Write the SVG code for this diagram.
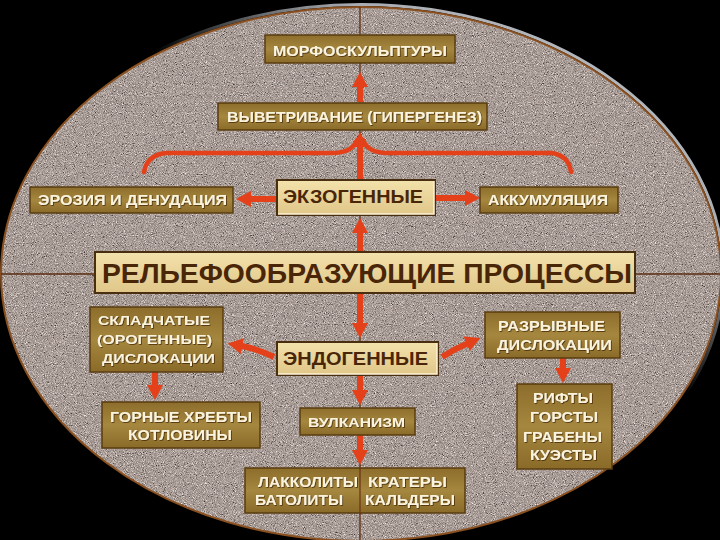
<svg xmlns="http://www.w3.org/2000/svg" width="720" height="540" viewBox="0 0 720 540">
<defs>
  <clipPath id="ell"><ellipse cx="361" cy="274" rx="360" ry="267"/></clipPath>
  <filter id="grain" x="0" y="0" width="720" height="540" filterUnits="userSpaceOnUse" color-interpolation-filters="sRGB">
    <feTurbulence type="fractalNoise" baseFrequency="1.1" numOctaves="2" seed="7" result="t"/>
    <feColorMatrix in="t" type="matrix" values="1 0 0 0 0  1 0 0 0 0  1 0 0 0 0  0 0 0 0 1" result="g"/>
    <feComponentTransfer in="g">
      <feFuncR type="table" tableValues="0.08 0.26 0.54 0.66 0.78 0.96 1"/>
      <feFuncG type="table" tableValues="0.06 0.23 0.50 0.61 0.73 0.92 0.99"/>
      <feFuncB type="table" tableValues="0.06 0.22 0.48 0.59 0.71 0.90 0.99"/>
    </feComponentTransfer>
  </filter>
  <filter id="ts" x="-10%" y="-30%" width="120%" height="160%">
    <feDropShadow dx="0.8" dy="0.8" stdDeviation="0.5" flood-color="#3a2206" flood-opacity="0.85"/>
  </filter>
  <linearGradient id="gold" x1="0" y1="0" x2="0" y2="1">
    <stop offset="0" stop-color="#8d6d2b"/>
    <stop offset="0.5" stop-color="#a5873f"/>
    <stop offset="1" stop-color="#8a6a28"/>
  </linearGradient>
  <linearGradient id="cream" x1="0" y1="0" x2="0" y2="1">
    <stop offset="0" stop-color="#f3e2ac"/>
    <stop offset="1" stop-color="#e0c688"/>
  </linearGradient>
  <linearGradient id="rim" x1="0.2" y1="0.8" x2="0.85" y2="0.05">
    <stop offset="0" stop-color="#b0b4b8" stop-opacity="0"/>
    <stop offset="0.55" stop-color="#b0b4b8" stop-opacity="0"/>
    <stop offset="0.8" stop-color="#a8acb2" stop-opacity="1"/>
    <stop offset="1" stop-color="#b8bcc0" stop-opacity="1"/>
  </linearGradient>
  <marker id="ah" viewBox="0 0 15 16" refX="1" refY="8" markerWidth="15" markerHeight="16" markerUnits="userSpaceOnUse" orient="auto">
    <path d="M0,0 L15,8 L0,16 z" fill="#e4411b"/>
  </marker>
  <style>
    .gbox{fill:url(#gold);stroke:#5a3c10;stroke-width:1.5}
    .cbox{fill:url(#cream);stroke:#4a2e10;stroke-width:2}
    .wt{font-family:"Liberation Sans",Arial,sans-serif;font-weight:bold;fill:#fbf3dc;text-anchor:middle;filter:url(#ts)}
    .dt{font-family:"Liberation Sans",Arial,sans-serif;font-weight:bold;fill:#4a2608;text-anchor:middle}
    .arr{stroke:#e4411b;stroke-width:6;fill:none;marker-end:url(#ah)}
    .brace{stroke:#e4411b;stroke-width:4.5;fill:none;stroke-linecap:round}
    .axis{stroke:#5b2d10;stroke-width:1.3}
  </style>
</defs>

<rect x="0" y="0" width="720" height="540" fill="#000"/>
<rect x="0" y="0" width="720" height="540" fill="#a09088" filter="url(#grain)" clip-path="url(#ell)"/>
<ellipse cx="361" cy="274" rx="362.5" ry="269.5" fill="none" stroke="url(#rim)" stroke-width="3"/>
<ellipse cx="361" cy="274" rx="360" ry="267" fill="none" stroke="#8a5020" stroke-width="2"/>

<g id="axes" clip-path="url(#ell)">
  <line class="axis" x1="360" y1="0" x2="360" y2="540"/>
  <line class="axis" x1="0" y1="274" x2="720" y2="274"/>
</g>

<g id="connectors">
  <line class="arr" x1="360" y1="102" x2="360" y2="86"/>
  <line class="arr" x1="360" y1="180" x2="360" y2="146"/>
  <path class="brace" d="M357,140 Q352,153 332,153 L166,153 Q147,155 144,172"/>
  <path class="brace" d="M363,140 Q368,153 388,153 L552,153 Q569,156 571,172"/>
  <line class="arr" x1="277" y1="199" x2="250" y2="199"/>
  <line class="arr" x1="435" y1="198" x2="466" y2="198"/>
  <line class="arr" x1="360" y1="252" x2="360" y2="232"/>
  <line class="arr" x1="360" y1="293" x2="360" y2="324"/>
  <path class="arr" d="M274,357 Q258,349 241.5,346"/>
  <line class="arr" x1="155" y1="372" x2="155" y2="386"/>
  <line class="arr" x1="360" y1="375" x2="360" y2="391"/>
  <line class="arr" x1="360" y1="435" x2="360" y2="451"/>
  <path class="arr" d="M442,357 Q454,349 467.5,343.4"/>
  <line class="arr" x1="563" y1="358" x2="563" y2="369"/>
</g>

<g id="n-morfo">
  <rect class="gbox" x="265" y="35" width="190" height="28"/>
  <text class="wt" x="360" y="56" font-size="14" textLength="174" lengthAdjust="spacingAndGlyphs">МОРФОСКУЛЬПТУРЫ</text>
</g>
<g id="n-vyvetr">
  <rect class="gbox" x="218" y="103" width="269" height="27"/>
  <text class="wt" x="354.5" y="122" font-size="14.5" textLength="255" lengthAdjust="spacingAndGlyphs">ВЫВЕТРИВАНИЕ (ГИПЕРГЕНЕЗ)</text>
</g>
<g id="n-erozia">
  <rect class="gbox" x="30" y="187" width="203" height="26"/>
  <text class="wt" x="132.5" y="205" font-size="14" textLength="189" lengthAdjust="spacingAndGlyphs">ЭРОЗИЯ И ДЕНУДАЦИЯ</text>
</g>
<g id="n-ekzo">
  <rect class="cbox" x="277" y="180" width="158" height="35"/>
  <path d="M278,214 L434,214 L434,181" fill="none" stroke="#fff4d8" stroke-width="1.5"/>
  <text class="dt" x="353" y="203" font-size="19" textLength="140" lengthAdjust="spacingAndGlyphs">ЭКЗОГЕННЫЕ</text>
</g>
<g id="n-akkum">
  <rect class="gbox" x="480" y="187" width="138" height="26"/>
  <text class="wt" x="548" y="205" font-size="14" textLength="120" lengthAdjust="spacingAndGlyphs">АККУМУЛЯЦИЯ</text>
</g>
<g id="n-relief">
  <rect class="cbox" x="95" y="252" width="540" height="41"/>
  <text class="dt" x="367" y="283" font-size="28" textLength="530" lengthAdjust="spacingAndGlyphs">РЕЛЬЕФООБРАЗУЮЩИЕ ПРОЦЕССЫ</text>
</g>
<g id="n-endo">
  <rect class="cbox" x="277" y="342" width="161" height="33"/>
  <path d="M278,374 L437,374 L437,343" fill="none" stroke="#fff4d8" stroke-width="1.5"/>
  <text class="dt" x="355.5" y="365" font-size="19" textLength="145" lengthAdjust="spacingAndGlyphs">ЭНДОГЕННЫЕ</text>
</g>
<g id="n-skladch">
  <rect class="gbox" x="90" y="307" width="133" height="65"/>
  <text class="wt" x="154" y="325" font-size="13.5" textLength="112" lengthAdjust="spacingAndGlyphs">СКЛАДЧАТЫЕ</text>
  <text class="wt" x="154.5" y="344" font-size="13.5" textLength="115" lengthAdjust="spacingAndGlyphs">(ОРОГЕННЫЕ)</text>
  <text class="wt" x="158.5" y="363" font-size="13.5" textLength="113" lengthAdjust="spacingAndGlyphs">ДИСЛОКАЦИИ</text>
</g>
<g id="n-gornye">
  <rect class="gbox" x="102" y="402" width="158" height="46"/>
  <text class="wt" x="181" y="422" font-size="14" textLength="142" lengthAdjust="spacingAndGlyphs">ГОРНЫЕ ХРЕБТЫ</text>
  <text class="wt" x="180" y="440" font-size="14" textLength="104" lengthAdjust="spacingAndGlyphs">КОТЛОВИНЫ</text>
</g>
<g id="n-vulkan">
  <rect class="gbox" x="300" y="408" width="115" height="27"/>
  <text class="wt" x="356.5" y="427" font-size="13.5" textLength="97" lengthAdjust="spacingAndGlyphs">ВУЛКАНИЗМ</text>
</g>
<g id="n-lakkol">
  <rect class="gbox" x="245" y="468" width="220" height="45"/>
  <line x1="360" y1="468" x2="360" y2="513" stroke="#6b3212" stroke-width="1.2"/>
  <text class="wt" x="308" y="487" font-size="14" textLength="100" lengthAdjust="spacingAndGlyphs">ЛАККОЛИТЫ</text>
  <text class="wt" x="407.5" y="487" font-size="14" textLength="79" lengthAdjust="spacingAndGlyphs">КРАТЕРЫ</text>
  <text class="wt" x="299" y="505" font-size="14" textLength="88" lengthAdjust="spacingAndGlyphs">БАТОЛИТЫ</text>
  <text class="wt" x="410" y="505" font-size="14" textLength="90" lengthAdjust="spacingAndGlyphs">КАЛЬДЕРЫ</text>
</g>
<g id="n-razryv">
  <rect class="gbox" x="485" y="312" width="135" height="46"/>
  <text class="wt" x="551.5" y="331" font-size="14" textLength="107" lengthAdjust="spacingAndGlyphs">РАЗРЫВНЫЕ</text>
  <text class="wt" x="554.5" y="350" font-size="14" textLength="115" lengthAdjust="spacingAndGlyphs">ДИСЛОКАЦИИ</text>
</g>
<g id="n-rifty">
  <rect class="gbox" x="517" y="384" width="95" height="85"/>
  <text class="wt" x="563" y="403" font-size="14.5" textLength="60" lengthAdjust="spacingAndGlyphs">РИФТЫ</text>
  <text class="wt" x="564" y="422" font-size="14.5" textLength="68" lengthAdjust="spacingAndGlyphs">ГОРСТЫ</text>
  <text class="wt" x="562.5" y="442" font-size="14.5" textLength="79" lengthAdjust="spacingAndGlyphs">ГРАБЕНЫ</text>
  <text class="wt" x="563.5" y="460" font-size="14.5" textLength="67" lengthAdjust="spacingAndGlyphs">КУЭСТЫ</text>
</g>
</svg>
